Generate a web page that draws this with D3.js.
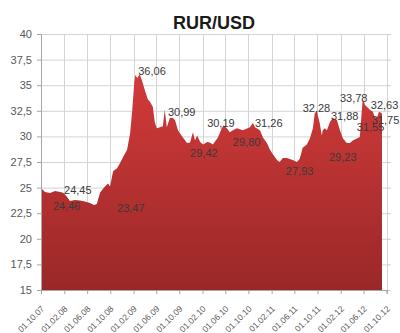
<!DOCTYPE html>
<html><head><meta charset="utf-8">
<script src="https://cdn.jsdelivr.net/npm/d3@7/dist/d3.min.js"></script>
<style>html,body{margin:0;padding:0;background:#fff;}svg{display:block;font-family:"Liberation Sans",Arial,sans-serif;}</style>
</head><body>
<svg id="c" width="400" height="333"></svg>
<script>
const title = "RUR/USD";
const dates = ["2007-10-01","2007-10-22","2007-11-18","2007-12-14","2008-01-10","2008-01-26","2008-02-11","2008-03-02","2008-03-28","2008-04-24","2008-05-20","2008-06-16","2008-07-07","2008-07-22","2008-08-08","2008-08-29","2008-09-19","2008-09-30","2008-10-16","2008-11-06","2008-11-22","2008-12-08","2008-12-29","2009-01-14","2009-01-25","2009-02-05","2009-02-10","2009-02-21","2009-03-06","2009-03-17","2009-04-02","2009-04-18","2009-04-28","2009-05-14","2009-05-24","2009-06-04","2009-06-20","2009-07-06","2009-07-16","2009-07-27","2009-08-12","2009-08-28","2009-09-08","2009-09-24","2009-10-04","2009-10-20","2009-11-11","2009-11-27","2009-12-12","2009-12-23","2010-01-03","2010-01-19","2010-02-04","2010-02-25","2010-03-11","2010-03-27","2010-04-23","2010-05-13","2010-05-24","2010-06-09","2010-06-25","2010-07-11","2010-08-01","2010-09-02","2010-10-09","2010-10-25","2010-11-05","2010-12-01","2010-12-17","2011-01-07","2011-01-23","2011-02-09","2011-03-01","2011-03-15","2011-04-01","2011-04-22","2011-05-23","2011-06-14","2011-06-29","2011-07-15","2011-08-06","2011-08-22","2011-09-07","2011-09-17","2011-09-28","2011-10-13","2011-10-24","2011-10-29","2011-11-09","2011-11-20","2011-12-06","2011-12-21","2012-01-12","2012-01-28","2012-02-13","2012-03-04","2012-03-20","2012-04-05","2012-04-26","2012-05-12","2012-05-22","2012-05-27","2012-06-08","2012-06-18","2012-07-04","2012-07-20","2012-07-30","2012-08-10","2012-08-21","2012-09-01","2012-09-06"];
const rates = [24.95,24.57,24.47,24.66,24.57,24.50,24.20,23.70,23.80,23.75,23.65,23.50,23.30,23.40,24.50,25.00,25.40,25.10,26.60,26.90,27.40,28.00,28.70,30.30,32.50,35.30,36.00,35.70,36.06,35.50,34.50,33.60,33.40,32.90,31.40,30.80,30.90,31.00,32.60,30.90,31.80,31.80,31.60,30.60,30.30,29.90,29.35,29.40,30.40,29.60,30.10,29.45,29.20,29.45,29.40,29.20,29.90,30.80,31.10,30.80,30.40,30.60,30.80,30.60,30.90,31.30,30.90,30.60,29.90,29.35,28.70,28.20,27.70,27.50,27.90,27.90,27.70,27.50,27.80,28.90,29.20,29.80,30.80,32.30,32.40,31.30,30.10,30.60,30.80,30.60,31.40,31.80,31.60,30.60,29.80,29.35,29.35,29.60,29.80,29.95,32.40,33.60,33.10,32.90,32.60,32.40,31.90,31.80,32.40,32.30,32.20];
const xTickDates = ["2007-10-01","2008-02-01","2008-06-01","2008-10-01","2009-02-01","2009-06-01","2009-10-01","2010-02-01","2010-06-01","2010-10-01","2011-02-01","2011-06-01","2011-10-01","2012-02-01","2012-06-01","2012-10-01"];
const xTickLabels = ["01.10.07","01.02.08","01.06.08","01.10.08","01.02.09","01.06.09","01.10.09","01.02.10","01.06.10","01.10.10","01.02.11","01.06.11","01.10.11","01.02.12","01.06.12","01.10.12"];
const yTicks = [15,17.5,20,22.5,25,27.5,30,32.5,35,37.5,40];
const yTickLabels = ["15","17,5","20","22,5","25","27,5","30","32,5","35","37,5","40"];
const labelTexts = ["36,06","30,99","24,45","24,46","23,47","29,42","30,19","31,26","29,80","27,93","32,28","31,88","29,23","33,78","32,63","31,55","31,75"];
const labelDates = ["2009-02-26","2009-08-02","2008-01-31","2007-12-03","2008-11-06","2009-11-27","2010-02-25","2010-11-05","2010-07-11","2011-04-17","2011-07-15","2011-12-11","2011-12-01","2012-01-28","2012-07-09","2012-04-26","2012-07-14"];
const labelYs = [36.0,32.0,24.38,22.81,22.62,27.99,30.92,30.92,29.06,26.23,32.38,31.6,27.6,33.36,32.68,30.53,31.21];

const parse = d3.utcParse("%Y-%m-%d");
const data = dates.map((d,i)=>({date:parse(d), v:rates[i]}));
const svg = d3.select("#c");
const L=41, R=386.7, T=34, B=290;
const x = d3.scaleUtc().domain([parse(xTickDates[0]), parse(xTickDates[xTickDates.length-1])]).range([L,R]);
const y = d3.scaleLinear().domain([15,40]).range([B,T]);

// gradient
const defs = svg.append("defs");
const g = defs.append("linearGradient").attr("id","gr").attr("gradientUnits","userSpaceOnUse")
  .attr("x1",0).attr("x2",0).attr("y1",y(36)).attr("y2",y(15));
g.append("stop").attr("offset","0%").attr("stop-color","#d23a3a");
g.append("stop").attr("offset","100%").attr("stop-color","#9a2828");

// grid
svg.append("g").selectAll("line").data(yTicks).join("line")
  .attr("x1",L).attr("x2",R).attr("y1",d=>y(d)+0.5).attr("y2",d=>y(d)+0.5)
  .attr("stroke","#d4d4d4").attr("stroke-width",1);
svg.append("g").selectAll("line").data(xTickDates).join("line")
  .attr("x1",d=>Math.round(x(parse(d)))+0.5).attr("x2",d=>Math.round(x(parse(d)))+0.5).attr("y1",T).attr("y2",B)
  .attr("stroke","#d4d4d4").attr("stroke-width",1);

// area
const area = d3.area().x(d=>x(d.date)).y0(y(15)).y1(d=>y(d.v)).curve(d3.curveLinear);
svg.append("path").datum(data).attr("d",area).attr("fill","url(#gr)");

// axes
const yAxis = d3.axisLeft(y).tickValues(yTicks).tickFormat((d,i)=>yTickLabels[i]).tickSize(4).tickPadding(5);
const ya = svg.append("g").attr("transform",`translate(${L},0)`).call(yAxis);
ya.select(".domain").attr("stroke","#a6a6a6");
ya.selectAll(".tick line").attr("stroke","#a6a6a6");
ya.selectAll("text").attr("font-size",11).attr("fill","#595959").attr("font-family","'Liberation Sans',Arial,sans-serif");

// right side ticks
svg.append("g").selectAll("line").data(yTicks).join("line")
  .attr("x1",R).attr("x2",R+4).attr("y1",d=>y(d)+0.5).attr("y2",d=>y(d)+0.5).attr("stroke","#c8c8c8");

const xAxis = d3.axisBottom(x).tickValues(xTickDates.map(parse)).tickFormat((d,i)=>xTickLabels[i]).tickSize(4).tickPadding(2);
const xa = svg.append("g").attr("transform",`translate(0,${B})`).call(xAxis);
xa.select(".domain").attr("stroke","#a6a6a6");
xa.selectAll(".tick line").attr("stroke","#a6a6a6");
xa.selectAll("text").attr("font-size",8.5).attr("fill","#595959").attr("font-family","'Liberation Sans',Arial,sans-serif")
  .attr("text-anchor","end").attr("dy","0.35em")
  .attr("transform","translate(-3,13) rotate(-45)");

// data labels
svg.append("g").selectAll("text").data(labelTexts).join("text")
  .attr("x",(d,i)=>x(parse(labelDates[i]))).attr("y",(d,i)=>y(labelYs[i]))
  .attr("font-size",11).attr("fill","#3a3a3a").text(d=>d);

// title
svg.append("text").attr("x",214).attr("y",29).attr("text-anchor","middle")
  .attr("font-size",18).attr("font-weight","bold").attr("fill","#1a1a1a").text(title);
</script>
</body></html>
